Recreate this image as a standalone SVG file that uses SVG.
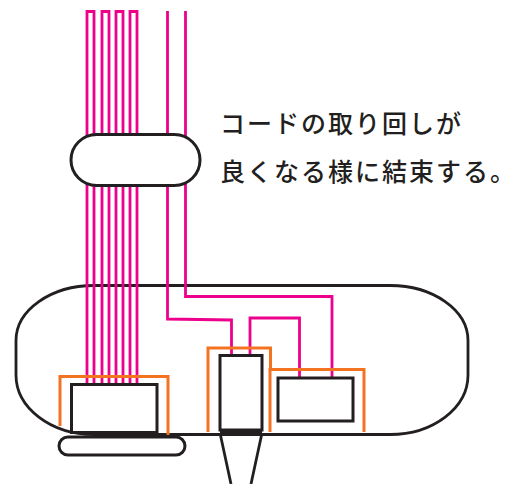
<svg xmlns="http://www.w3.org/2000/svg" width="510" height="484" viewBox="0 0 510 484">
<style>
.w{fill:none;stroke:#ec008c;stroke-width:2.800}
.o{fill:none;stroke:#f47321;stroke-width:3}
.b{fill:#fff;stroke:#231f20;stroke-width:3}
.n{fill:none;stroke:#231f20;stroke-width:2.800}
text{font-family:"Noto Sans CJK JP","Noto Sans CJK SC",sans-serif;font-size:25px;letter-spacing:2px;font-weight:500;fill:#231f20}
.h{font-feature-settings:"halt";letter-spacing:0}
</style>
<g id="body"><path class="n" d="M94 285.500H390A78 55 0 0 1 468 340.500V375A78 59.500 0 0 1 390 434.500H94A78 59.500 0 0 1 16 375V340.500A78 55 0 0 1 94 285.500Z"/></g>
<g id="connectors">
<path class="w" d="M87 384V11.500H94V384M102 384V11.500H109V384M116 384V11.500H123V384M130 384V11.500H137V384"/>
<path class="w" d="M167.500 11V319L231.500 320V355M185.500 11V296.500H332V378M250 355V318H299.500V378"/>
<path class="o" d="M60 426V376.500H168V435M208 432V348H270.500V369M270 432V369.500H364V432"/>
</g>
<g id="strap"><rect class="b" x="71" y="134.500" width="129" height="51" rx="25.500"/></g>
<g id="box-left"><rect class="b" x="71.500" y="384.500" width="85.500" height="48"/></g>
<g id="pill"><rect class="b" x="59" y="437" width="126" height="18" rx="9"/></g>
<g id="box-mid"><rect class="b" x="220" y="355.500" width="42" height="74.500"/></g>
<g id="box-right"><rect class="b" x="278" y="378" width="75" height="43"/></g>
<g id="plug"><path class="n" d="M220 432.500H262M220 433L231 484M262 433L251 484"/></g>
<g id="label"><text x="220" y="133">コードの取り回しが</text><text x="220" y="181">良くなる様に結束する<tspan class="h">。</tspan></text></g>
</svg>
